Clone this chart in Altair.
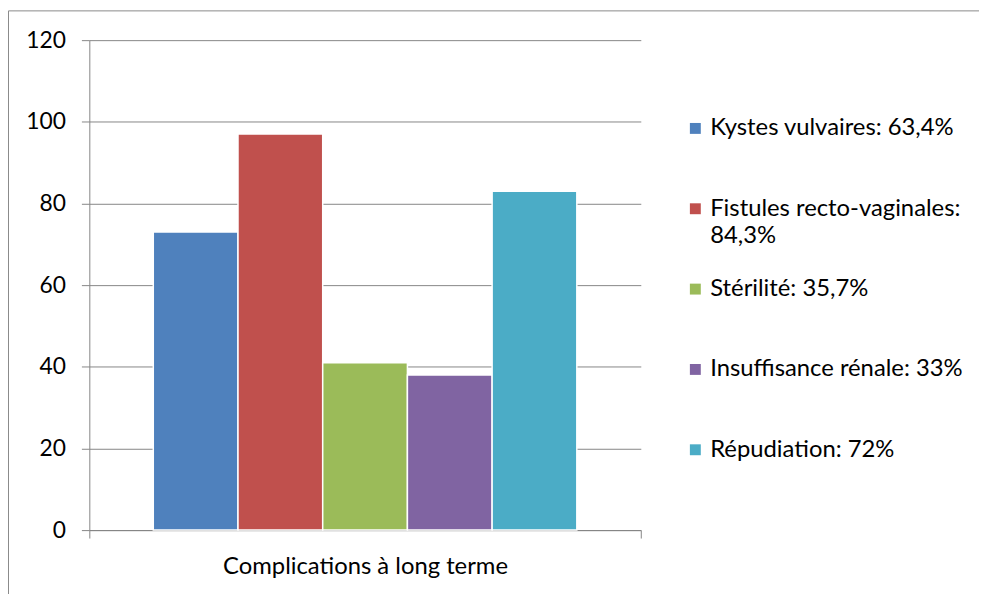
import altair as alt
import pandas as pd

category = ["Complications à long terme"]
series = [
    "Kystes vulvaires: 63,4%",
    "Fistules recto-vaginales: 84,3%",
    "Stérilité: 35,7%",
    "Insuffisance rénale: 33%",
    "Répudiation: 72%",
]
values = [73, 97, 41, 38, 83]
colors = ["#4F81BD", "#C0504D", "#9BBB59", "#8064A2", "#4BACC6"]
y_ticks = [0, 20, 40, 60, 80, 100, 120]

df = pd.DataFrame({"cat": category * len(series), "series": series, "value": values})

FONT = "Lato"
FS = 24
GRAY = "#868686"

label_expr = (
    "datum.label == 'Fistules recto-vaginales: 84,3%' "
    "? ['Fistules recto-vaginales:', '84,3%'] : [datum.label, '']"
)

bars = alt.Chart(df).mark_bar(stroke="white", strokeWidth=1.5).encode(
    x=alt.X(
        "cat:N",
        title=None,
        scale=alt.Scale(paddingInner=0, paddingOuter=0),
        axis=alt.Axis(labelAngle=0, tickBand="extent", tickSize=8, labelPadding=17,
                      labelLimit=600, grid=False, domainColor=GRAY, tickColor=GRAY,
                      labelFont=FONT, labelFontSize=FS, labelColor="black"),
    ),
    xOffset=alt.XOffset("series:N", sort=series,
                        scale=alt.Scale(paddingInner=0, paddingOuter=0.755)),
    y=alt.Y(
        "value:Q",
        title=None,
        scale=alt.Scale(domain=[0, 120], nice=False),
        axis=alt.Axis(values=y_ticks, grid=True, gridColor=GRAY, tickSize=8,
                      labelPadding=16, domainColor=GRAY, tickColor=GRAY,
                      labelFont=FONT, labelFontSize=23, labelColor="black"),
    ),
    color=alt.Color(
        "series:N",
        sort=series,
        scale=alt.Scale(domain=series, range=colors),
        legend=alt.Legend(
            title=None, orient="none", legendX=599, legendY=77, direction="vertical",
            symbolType="square", symbolSize=121, symbolStrokeWidth=0,
            labelFont=FONT, labelFontSize=FS, labelColor="black", labelLimit=600,
            labelOffset=3, labelExpr=label_expr, rowPadding=29, padding=0,
        ),
    ),
)

border = alt.Chart(pd.DataFrame({"b": [0]})).mark_rect(
    fill="transparent", stroke="#898989", strokeWidth=1
).encode(
    x=alt.value(-81.5), x2=alt.value(1000), y=alt.value(-29.5), y2=alt.value(1000)
)

chart = alt.layer(border, bars).properties(
    width=556,
    height=494,
    padding={"left": 82, "top": 30, "right": 341, "bottom": 62},
    autosize=alt.AutoSizeParams(type="none"),
).configure(
    style={"guide-label": {"lineHeight": 28}}
).configure_view(stroke="transparent")

chart.save("out.html", embed_options={"renderer": "svg", "actions": False})
